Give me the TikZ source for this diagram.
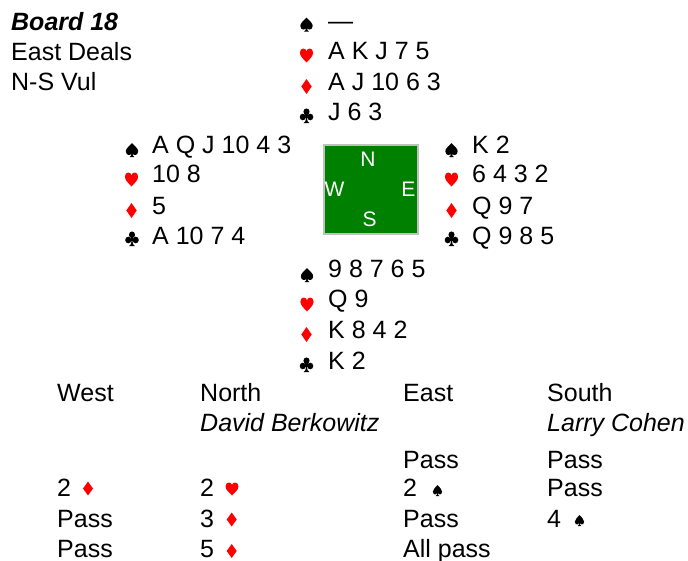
\documentclass[tikz,border=0pt]{standalone}
\usepackage{fontspec}
\setmainfont{Liberation Sans}
\definecolor{suitred}{RGB}{255,0,0}
\definecolor{boardgreen}{RGB}{0,128,0}
\definecolor{boardedge}{RGB}{192,192,192}
\tikzset{
  spadesym/.pic={\fill[black] (0,-1) .. controls (-0.45,-0.5) and (-1,-0.25) .. (-1,0.2)
      .. controls (-1,0.55) and (-0.75,0.72) .. (-0.5,0.72)
      .. controls (-0.25,0.72) and (-0.1,0.6) .. (-0.06,0.45)
      .. controls (-0.08,0.72) and (-0.2,0.92) .. (-0.4,1) -- (0.4,1)
      .. controls (0.2,0.92) and (0.08,0.72) .. (0.06,0.45)
      .. controls (0.1,0.6) and (0.25,0.72) .. (0.5,0.72)
      .. controls (0.75,0.72) and (1,0.55) .. (1,0.2)
      .. controls (1,-0.25) and (0.45,-0.5) .. (0,-1) -- cycle;},
  heartsym/.pic={\fill[suitred] (0,1) .. controls (-0.4,0.55) and (-1,0.15) .. (-1,-0.4)
      .. controls (-1,-0.8) and (-0.75,-1) .. (-0.48,-1)
      .. controls (-0.2,-1) and (-0.03,-0.8) .. (0,-0.6)
      .. controls (0.03,-0.8) and (0.2,-1) .. (0.48,-1)
      .. controls (0.75,-1) and (1,-0.8) .. (1,-0.4)
      .. controls (1,0.15) and (0.4,0.55) .. (0,1) -- cycle;},
  diamondsym/.pic={\fill[suitred] (0,-1) -- (1,0) -- (0,1) -- (-1,0) -- cycle;},
  clubsym/.pic={\fill[black] (0,-0.5) ellipse [x radius=0.44, y radius=0.44];
      \fill[black] (-0.53,0.2) ellipse [x radius=0.44, y radius=0.44];
      \fill[black] (0.53,0.2) ellipse [x radius=0.44, y radius=0.44];
      \fill[black] (-0.2,-0.2) rectangle (0.2,0.3);
      \fill[black] (-0.07,0.2) .. controls (-0.08,0.7) and (-0.2,0.92) .. (-0.4,1) -- (0.4,1)
      .. controls (0.2,0.92) and (0.08,0.7) .. (0.07,0.2) -- cycle;},
  hS/.style={xscale=6.2,yscale=7},
  hH/.style={xscale=6.6,yscale=7},
  hD/.style={xscale=5.2,yscale=7.5},
  hC/.style={xscale=7,yscale=7.5},
  bD/.style={xscale=5,yscale=7},
  bH/.style={xscale=6.5,yscale=6.5},
  bS/.style={xscale=4.6,yscale=5.5}
}
\begin{document}
\begin{tikzpicture}[x=1pt,y=-1pt,
  txt/.style={font=\fontsize{25}{30}\selectfont, anchor=base west, inner sep=0pt, text=black},
  itxt/.style={txt, font=\fontsize{25}{30}\selectfont\itshape},
  compass/.style={font=\fontsize{21}{24}\selectfont, text=white, anchor=base, inner sep=0pt}]
\useasboundingbox (0,0) rectangle (688,560);

% header
\node[txt, font=\fontsize{25}{30}\selectfont\bfseries\itshape] (board) at (11,30) {Board 18};
\node[txt] (dealer) at (11,60) {East Deals};
\node[txt] (vul) at (11,90.5) {N-S Vul};

% North
\pic[hS] (nS) at (306.5,24.5) {spadesym};
\node[txt] (nSt) at (328,29.5) {—};
\pic[hH] (nH) at (306.5,55.5) {heartsym};
\node[txt] (nHt) at (328,59.5) {A K J 7 5};
\pic[hD] (nD) at (306.5,86.5) {diamondsym};
\node[txt] (nDt) at (328,90) {A J 10 6 3};
\pic[hC] (nC) at (306.5,115.5) {clubsym};
\node[txt] (nCt) at (328,120) {J 6 3};

% West
\pic[hS] (wS) at (132,150) {spadesym};
\node[txt] (wSt) at (152,153) {A Q J 10 4 3};
\pic[hH] (wH) at (131.5,179.5) {heartsym};
\node[txt] (wHt) at (152,182.5) {10 8};
\pic[hD] (wD) at (131.5,210.5) {diamondsym};
\node[txt] (wDt) at (152,214) {5};
\pic[hC] (wC) at (132,238.5) {clubsym};
\node[txt] (wCt) at (152,244) {A 10 7 4};

% East
\pic[hS] (eS) at (451.5,150) {spadesym};
\node[txt] (eSt) at (472,153) {K 2};
\pic[hH] (eH) at (451.5,179.5) {heartsym};
\node[txt] (eHt) at (472,182.5) {6 4 3 2};
\pic[hD] (eD) at (451.5,210.5) {diamondsym};
\node[txt] (eDt) at (472,214) {Q 9 7};
\pic[hC] (eC) at (451.5,238.5) {clubsym};
\node[txt] (eCt) at (472,244) {Q 9 8 5};

% South
\pic[hS] (sS) at (307,275) {spadesym};
\node[txt] (sSt) at (328,277) {9 8 7 6 5};
\pic[hH] (sH) at (307,304.5) {heartsym};
\node[txt] (sHt) at (328,307) {Q 9};
\pic[hD] (sD) at (306.5,334.5) {diamondsym};
\node[txt] (sDt) at (328,338.5) {K 8 4 2};
\pic[hC] (sC) at (306.5,364.5) {clubsym};
\node[txt] (sCt) at (328,369) {K 2};

% compass
\node[draw=boardedge, line width=1.5pt, fill=boardgreen, minimum width=94pt, minimum height=89pt, inner sep=0pt, anchor=north west] (table) at (323,144) {};
\node[compass] (cN) at (368,166.5) {N};
\node[compass] (cW) at (334.5,196) {W};
\node[compass] (cE) at (408.3,196) {E};
\node[compass] (cS) at (369.5,226.5) {S};

% bidding
\node[txt] (hW) at (57,401) {West};
\node[txt] (hN) at (200,401) {North};
\node[txt] (hE) at (403,401) {East};
\node[txt] (hSo) at (547,401) {South};
\node[itxt] (pN) at (200,431) {David Berkowitz};
\node[itxt] (pS) at (547,431) {Larry Cohen};

\node[txt] (b1E) at (403,468) {Pass};
\node[txt] (b1S) at (547,468) {Pass};

\node[txt] (b2W) at (57,496.5) {2};
\pic[bD] (b2Ws) at (88,488.5) {diamondsym};
\node[txt] (b2N) at (200,496.5) {2};
\pic[bH] (b2Ns) at (232,489) {heartsym};
\node[txt] (b2E) at (403,496.5) {2};
\pic[bS] (b2Es) at (437.5,490.5) {spadesym};
\node[txt] (b2S) at (547,496.5) {Pass};

\node[txt] (b3W) at (57,527) {Pass};
\node[txt] (b3N) at (200,527) {3};
\pic[bD] (b3Ns) at (231.7,519.5) {diamondsym};
\node[txt] (b3E) at (403,527) {Pass};
\node[txt] (b3S) at (547,527) {4};
\pic[bS] (b3Ss) at (579.5,520.5) {spadesym};

\node[txt] (b4W) at (57,557.5) {Pass};
\node[txt] (b4N) at (200,557.5) {5};
\pic[bD] (b4Ns) at (231.7,551) {diamondsym};
\node[txt] (b4E) at (403,557.5) {All pass};
\end{tikzpicture}
\end{document}
